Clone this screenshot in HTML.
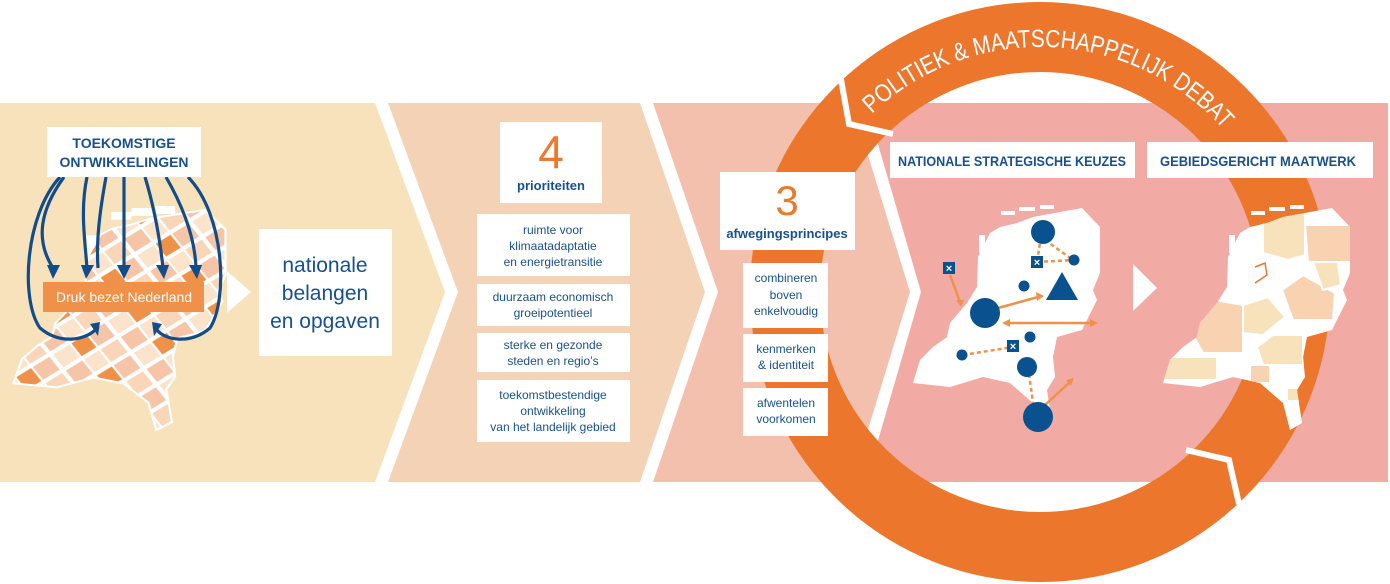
<!DOCTYPE html>
<html><head><meta charset="utf-8"><style>
html,body{margin:0;padding:0;background:#fff;}
svg{display:block;font-family:"Liberation Sans",sans-serif;}
</style></head><body>
<svg width="1390" height="584" viewBox="0 0 1390 584" xmlns="http://www.w3.org/2000/svg">
<defs>
<g id="nl">
<polygon points="104,18 120,12 169,3 187,22 187,68 180,85 184,95 169,125 144,132 140,152 142,172 134,185 139,218 127,225 120,198 97,178 70,172 37,182 0,178 7,155 20,142 34,132 37,118 54,98 64,82 65,52 77,28 87,22"/>
<rect x="88" y="6" width="14" height="4"/><rect x="106" y="2" width="16" height="4"/><rect x="127" y="0" width="14" height="4"/>
<rect x="66" y="30" width="6" height="18"/>
</g>
<clipPath id="nlclip"><polygon points="104,18 120,12 169,3 187,22 187,68 180,85 184,95 169,125 144,132 140,152 142,172 134,185 139,218 127,225 120,198 97,178 70,172 37,182 0,178 7,155 20,142 34,132 37,118 54,98 64,82 65,52 77,28 87,22"/></clipPath>
<pattern id="tiles" width="60" height="40" patternUnits="userSpaceOnUse" patternTransform="rotate(-35)">
<rect width="60" height="40" fill="#ffffff"/>
<rect x="2" y="2" width="18" height="16" fill="#f6c4a6"/>
<rect x="22" y="2" width="16" height="16" fill="#fbe3cc"/>
<rect x="40" y="2" width="18" height="16" fill="#f9d6b8"/>
<rect x="2" y="22" width="18" height="16" fill="#fbe3cc"/>
<rect x="22" y="22" width="16" height="16" fill="#ef9149"/>
<rect x="40" y="22" width="18" height="16" fill="#f6c4a6"/>
</pattern>
</defs>
<!-- band panels -->
<polygon points="0,103 375,103 445,292 375,482 0,482" fill="#f7e2bb"/>
<polygon points="388,103 640,103 705,292 640,482 388,482 458,292" fill="#f4d2b5"/>
<polygon points="653,103 852,103 910,292 852,482 653,482 718,292" fill="#f2c0ad"/>
<polygon points="866,103 1388,103 1388,482 866,482 921,292" fill="#f2aaa5"/>

<!-- left map -->
<g transform="translate(15,208) scale(1.12,0.98)">
<use href="#nl" fill="#fff" stroke="#fff" stroke-width="4"/>
<g clip-path="url(#nlclip)"><rect x="0" y="0" width="200" height="230" fill="url(#tiles)"/></g>
</g>

<!-- arrows left -->
<g stroke="#124d8a" stroke-width="3.2" fill="none">
<path d="M64,177 C40,210 35,240 53,268"/>
<path d="M87,177 C80,210 85,240 87,268"/>
<path d="M106,177 C100,210 96,240 98,268"/>
<path d="M124,177 L124,268"/>
<path d="M145,177 C155,210 160,240 163,268"/>
<path d="M166,177 C185,210 195,240 196,268"/>
<path d="M60,177 C25,215 20,300 40,328 C60,345 85,340 95,330"/>
<path d="M188,177 C225,215 228,300 210,328 C190,345 165,340 157,330"/>
</g>
<g fill="#124d8a">
<polygon points="47,265 60,265 53,279"/>
<polygon points="81,265 94,265 86,279"/>
<polygon points="117,265 131,265 124,279"/>
<polygon points="156,265 169,265 164,279"/>
<polygon points="189,265 202,265 197,279"/>
<polygon points="90,324 98,336 100,322"/>
<polygon points="162,324 154,336 152,322"/>
</g>

<rect x="47" y="127" width="154" height="50" fill="#fff"/>
<text x="124" y="148" font-size="14" font-weight="bold" fill="#18508f" text-anchor="middle">TOEKOMSTIGE</text>
<text x="124" y="167" font-size="14" font-weight="bold" fill="#18508f" text-anchor="middle">ONTWIKKELINGEN</text>
<rect x="43" y="282" width="161" height="30" fill="#ef9149"/>
<text x="124" y="302" font-size="14" fill="#fff" text-anchor="middle">Druk bezet Nederland</text>

<polygon points="227,271 251,292 227,313" fill="#fff"/>
<rect x="259" y="229" width="133" height="127" fill="#fff"/>
<g font-size="21" fill="#18508f" text-anchor="middle">
<text x="325" y="272">nationale</text>
<text x="325" y="300">belangen</text>
<text x="325" y="328">en opgaven</text>
</g>

<!-- 4 prioriteiten -->
<rect x="500" y="122" width="102" height="81" fill="#fff"/>
<text x="551" y="168" font-size="46" fill="#ec7a2e" text-anchor="middle">4</text>
<text x="551" y="190" font-size="13" font-weight="bold" fill="#18508f" text-anchor="middle">prioriteiten</text>
<g fill="#fff">
<rect x="477" y="214" width="153" height="62"/>
<rect x="477" y="284" width="153" height="42"/>
<rect x="477" y="333" width="153" height="39"/>
<rect x="477" y="380" width="153" height="62"/>
</g>
<g font-size="12" fill="#18508f" text-anchor="middle">
<text x="553" y="234">ruimte voor</text>
<text x="553" y="250">klimaatadaptatie</text>
<text x="553" y="266">en energietransitie</text>
<text x="553" y="301">duurzaam economisch</text>
<text x="553" y="317">groeipotentieel</text>
<text x="553" y="349">sterke en gezonde</text>
<text x="553" y="365">steden en regio’s</text>
<text x="553" y="399">toekomstbestendige</text>
<text x="553" y="415">ontwikkeling</text>
<text x="553" y="431">van het landelijk gebied</text>
</g>

<!-- ring -->
<circle cx="1040" cy="292" r="255" fill="none" stroke="#ec772c" stroke-width="70"/>
<g stroke="#fff" stroke-width="6" fill="none">
<polyline points="840,74 849,124 893,134"/>
<polyline points="1186,450 1229,460 1239,504"/>
</g>
<path id="arc" d="M852.3,134.5 A245,245 0 0 1 1240.7,151.5" fill="none"/>
<text font-size="25" fill="#fff"><textPath href="#arc" startOffset="50%" text-anchor="middle" textLength="392" lengthAdjust="spacingAndGlyphs">POLITIEK &amp; MAATSCHAPPELIJK DEBAT</textPath></text>

<!-- 3 afwegingsprincipes -->
<rect x="720" y="172" width="135" height="78" fill="#fff"/>
<text x="787" y="215" font-size="42" fill="#ec7a2e" text-anchor="middle">3</text>
<text x="787" y="238" font-size="13" font-weight="bold" fill="#18508f" text-anchor="middle">afwegingsprincipes</text>
<g fill="#fff">
<rect x="743" y="263" width="85" height="65"/>
<rect x="743" y="334" width="85" height="48"/>
<rect x="743" y="388" width="85" height="48"/>
</g>
<g font-size="12" fill="#18508f" text-anchor="middle">
<text x="786" y="282">combineren</text>
<text x="786" y="299">boven</text>
<text x="786" y="315">enkelvoudig</text>
<text x="786" y="353">kenmerken</text>
<text x="786" y="369">&amp; identiteit</text>
<text x="786" y="407">afwentelen</text>
<text x="786" y="423">voorkomen</text>
</g>

<!-- headers -->
<rect x="890" y="142" width="245" height="36" fill="#fff"/>
<text x="1012" y="166" font-size="14" font-weight="bold" fill="#18508f" text-anchor="middle" textLength="228" lengthAdjust="spacingAndGlyphs">NATIONALE STRATEGISCHE KEUZES</text>
<rect x="1147" y="142" width="226" height="36" fill="#fff"/>
<text x="1258" y="166" font-size="14" font-weight="bold" fill="#18508f" text-anchor="middle" textLength="196" lengthAdjust="spacingAndGlyphs">GEBIEDSGERICHT MAATWERK</text>

<!-- map 2 -->
<g transform="translate(913,205)" fill="#fff"><use href="#nl"/></g>
<g stroke="#ef9149" stroke-width="2.5" stroke-dasharray="4,3" fill="none">
<line x1="1042" y1="230" x2="1037" y2="262"/><line x1="1045" y1="240" x2="1073" y2="260"/><line x1="1037" y1="262" x2="1073" y2="260"/>
<line x1="963" y1="355" x2="1013" y2="347"/><line x1="1028" y1="367" x2="1034" y2="410"/>
</g>
<g stroke="#ef9149" stroke-width="2.5" fill="none">
<line x1="950" y1="275" x2="960" y2="302"/>
<line x1="998" y1="308" x2="1038" y2="297"/>
<line x1="1008" y1="323" x2="1094" y2="323"/>
<line x1="1045" y1="405" x2="1070" y2="382"/>
</g>
<g fill="#ef9149">
<polygon points="956,300 964,300 961,307"/>
<polygon points="1036,292 1044,296 1037,301"/>
<polygon points="1002,323 1010,319 1010,327"/>
<polygon points="1098,323 1090,319 1090,327"/>
<polygon points="1074,378 1066,380 1071,386"/>
</g>
<g fill="#0a5190">
<circle cx="1043" cy="232" r="12"/><circle cx="1074" cy="260" r="5.5"/><circle cx="1024" cy="286" r="5.5"/>
<polygon points="1062,272 1078,300 1046,300"/>
<circle cx="985" cy="313" r="15"/><circle cx="1030" cy="337" r="5.5"/><circle cx="962" cy="355" r="5.5"/>
<circle cx="1027" cy="367" r="10"/><circle cx="1038" cy="417" r="15"/>
<rect x="943" y="262" width="12" height="12"/><rect x="1031" y="256" width="12" height="12"/><rect x="1007" y="340" width="12" height="12"/>
</g>
<g fill="#fff" font-size="11" font-weight="bold" text-anchor="middle">
<text x="949" y="272">×</text><text x="1037" y="266">×</text><text x="1013" y="350">×</text>
</g>

<polygon points="1133,264 1157,288 1133,311" fill="#fff"/>

<!-- map 3 -->
<g transform="translate(1163,205)">
<use href="#nl" fill="#fff"/>
<g clip-path="url(#nlclip)" stroke="#fff" stroke-width="2">
<polygon points="100,10 142,5 142,50 125,55 100,48" fill="#f7e2bb"/>
<polygon points="142,20 192,20 192,57 145,57" fill="#f9d3b1"/>
<polygon points="119,85 140,70 172,88 170,115 130,115" fill="#f9d3b1"/>
<polygon points="34,112 52,95 80,100 80,148 40,148 30,130" fill="#f9d3b1"/>
<polygon points="80,100 105,92 122,112 100,130 80,128" fill="#f7e2bb"/>
<polygon points="94,142 110,130 140,130 140,160 100,160" fill="#f7e2bb"/>
<polygon points="87,160 107,160 107,178 87,178" fill="#f9d3b1"/>
<polygon points="0,152 54,152 54,175 0,175" fill="#f7e2bb"/>
<polygon points="124,183 142,183 140,196 124,196" fill="#f7e2bb"/>
<polygon points="150,57 175,57 178,80 160,85" fill="#f7e2bb"/>
</g>
<polyline points="92,62 102,58 104,70 92,78" fill="none" stroke="#ec772c" stroke-width="1.5"/>
</g>
</svg>
</body></html>
